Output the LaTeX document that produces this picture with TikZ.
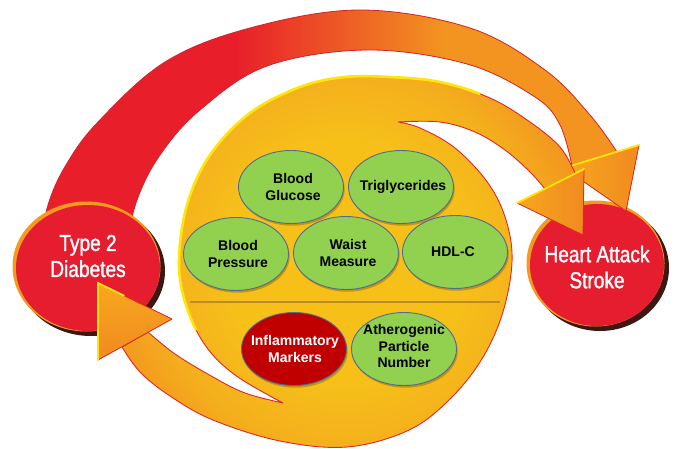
\documentclass[tikz,border=0pt]{standalone}
\usepackage{fontspec}
\setmainfont{Liberation Sans}
\newfontfamily\dinfont[FakeStretch=0.83,FakeBold=1.4]{Liberation Sans}
\usetikzlibrary{shapes.geometric,shadows,calc}

% palette
\definecolor{arcRed}{HTML}{E81F2A}
\definecolor{arcOrange}{HTML}{F39420}
\definecolor{arcEdge}{HTML}{D3222A}
\definecolor{edgeRed}{HTML}{E42629}
\definecolor{hiYellow}{HTML}{FFE60A}
\definecolor{discYellow}{HTML}{F6C019}
\definecolor{discMid}{HTML}{F4AE1D}
\definecolor{bandOrange}{HTML}{F3931F}
\definecolor{arrowLight}{HTML}{F7A81E}
\definecolor{arrowDark}{HTML}{F18A20}
\definecolor{outcomeRed}{HTML}{E61D2E}
\definecolor{rimOrange}{HTML}{F39A1F}
\definecolor{rimDark}{HTML}{3E1712}
\definecolor{factorGreen}{HTML}{92D050}
\definecolor{factorEdge}{HTML}{4F6C95}
\definecolor{markerRed}{HTML}{C00000}
\definecolor{sepGold}{HTML}{B98A2F}

% red-to-orange sweep of the long arc
\pgfdeclarehorizontalshading{arcshade}{100bp}{color(0bp)=(arcRed); color(42bp)=(arcRed); color(60bp)=(arcOrange); color(100bp)=(arcOrange)}
% yellow core of the central disc fading to orange in its arms
\pgfdeclareradialshading{discglow}{\pgfpoint{0bp}{0bp}}{color(0bp)=(discYellow); color(10bp)=(discYellow); color(16bp)=(discMid); color(21bp)=(bandOrange); color(50bp)=(bandOrange)}

% outline of the disc with its two curved arms
\newcommand\discoutline{%
  plot[smooth, tension=0.6] coordinates {(398,122) (440,122) (475,132) (505,150) (530,172) (545,189)}
  -- plot[smooth, tension=0.6] coordinates {(575,173) (560,147) (530,122) (490,98) (440,82) (390,77) (345,77) (300,87) (250,113) (210,155) (187,205) (179,262) (186,305) (205,345) (235,375) (283,403)}
  -- plot[smooth, tension=0.6] coordinates {(283,403) (245,393) (213,377) (175,354) (148,332)}
  -- plot[smooth, tension=0.6] coordinates {(122,347) (140,372) (170,396) (213,420) (280,441) (347,447) (407,431) (447,402) (480,362) (502,315) (512,262) (506,220) (488,183) (455,148) (420,128) (398,122)}
  -- cycle}

\begin{document}
\begin{tikzpicture}[x=1pt, y=-1pt,
  factor/.style={ellipse, draw=factorEdge, line width=0.9pt, fill=factorGreen,
    minimum width=105pt, minimum height=73pt, inner sep=0pt,
    drop shadow={shadow xshift=1.2pt, shadow yshift=-2.2pt, fill=black, opacity=0.22}},
  hotfactor/.style={factor, fill=markerRed},
  factortext/.style={font=\fontsize{14}{16.5}\selectfont\bfseries, align=center, text=black, inner sep=0pt},
  hottext/.style={factortext, text=white},
  outcome/.style={ellipse, fill=outcomeRed, inner sep=0pt},
  outcometext/.style={font=\dinfont\fontsize{23}{26}\selectfont, text=white, align=center, inner sep=0pt},
  tipfill/.style={left color=arrowLight, right color=arrowDark},
  tipedge/.style={edgeRed, line width=0.8pt, line join=round},
  tiplight/.style={hiYellow, line width=1.8pt, line cap=round}]

\fill[white] (0,0) rectangle (679,449);
\useasboundingbox (0,0) rectangle (679,449);

% ---- Heart Attack / Stroke disc
\coordinate (hc) at (597,265);
\fill[rimDark] ([shift={(3,3)}]hc) ellipse [x radius=69, y radius=63];
\fill[rimOrange] ([shift={(-1.5,-1.5)}]hc) ellipse [x radius=69, y radius=63];
\node[outcome, minimum width=134pt, minimum height=122pt] (heart) at (hc) {};

% ---- long arc from diabetes to heart attack
\shadedraw[shading=arcshade, draw=arcEdge, line width=0.8pt, line join=round]
  plot[smooth, tension=0.6] coordinates {(40,250) (48,205) (66,165) (98,122) (165,62) (250,28) (360,10) (470,28) (545,70) (590,115) (617,152)}
  -- plot[smooth, tension=0.6] coordinates {(572,166) (560,125) (535,97) (467,64) (367,50) (267,66) (200,110) (160,155) (137,200) (125,250)}
  -- cycle;
\coordinate (oaL) at (564,168);
\coordinate (oaR) at (639,145);
\coordinate (oaT) at (626,211);
\fill[tipfill] (oaL) -- (oaR) -- (oaT) -- cycle;
\draw[tipedge] (oaR) -- (oaT) -- (oaL);
\draw[tiplight] (oaL) -- (oaR);

% ---- Type 2 Diabetes disc
\coordinate (dc) at (88,268);
\fill[rimDark] ([shift={(3,3)}]dc) ellipse [x radius=74, y radius=65];
\fill[rimOrange] ([shift={(-1.5,-1.5)}]dc) ellipse [x radius=74, y radius=65];
\node[outcome, minimum width=144pt, minimum height=126pt] (diab) at (dc) {};

% ---- central disc with its two arms
\begin{scope}
  \clip \discoutline;
  \shade[shading=discglow] (345,262) ellipse [x radius=300, y radius=300];
\end{scope}
\draw[edgeRed, line width=0.9pt, line join=round] \discoutline;
\begin{scope}
  \clip (0,0) -- (480,0) -- (480,100) -- (395,100) -- (395,330) -- (0,330) -- cycle;
  \draw[hiYellow, line width=2.6pt] \discoutline;
\end{scope}

% arrow tip of the upper arm
\coordinate (iaL) at (517,203);
\coordinate (iaR) at (584,169);
\coordinate (iaT) at (583,235);
\fill[tipfill] (iaL) -- (iaR) -- (iaT) -- cycle;
\draw[tipedge] (iaR) -- (iaT) -- (iaL);
\draw[tiplight] (iaL) -- (iaR);

% arrow tip of the lower arm
\coordinate (laT) at (98,283);
\coordinate (laR) at (172,319);
\coordinate (laB) at (98,360);
\fill[top color=arrowLight, bottom color=arrowDark] (laT) -- (laR) -- (laB) -- cycle;
\draw[tipedge] (laT) -- (laR) -- (laB);
\draw[tiplight] (laB) -- (laT) -- ($(laT)!0.35!(laR)$);

% ---- divider inside the disc
\coordinate (sepL) at (190,302);
\coordinate (sepR) at (500,302);
\draw[sepGold, line width=1.2pt] (sepL) -- (sepR);

% ---- risk factors
\node[factor] (bg) at (291,187) {};
\node[factor] (tg) at (401,187) {};
\node[factor] (bp) at (236,254) {};
\node[factor] (wm) at (346,253) {};
\node[factor] (hdl) at (455,252) {};
\node[hotfactor] (inf) at (294,349) {};
\node[factor] (apn) at (404,349) {};

\node[factortext] (bgT) at ([xshift=2pt]bg.center) {Blood\\Glucose};
\node[factortext] (tgT) at ([xshift=2pt]tg.center) {Triglycerides};
\node[factortext] (bpT) at ([xshift=2pt]bp.center) {Blood\\Pressure};
\node[factortext] (wmT) at ([xshift=2pt]wm.center) {Waist\\Measure};
\node[factortext] (hdlT) at ([xshift=-2pt]hdl.center) {HDL-C};
\node[hottext] (infT) at ([xshift=1pt]inf.center) {Inflammatory\\Markers};
\node[factortext] (apnT) at ([yshift=3pt]apn.center) {Atherogenic\\Particle\\Number};

% ---- outcome labels
\node[outcometext] (diabT) at (88,256) {Type 2\\Diabetes};
\node[outcometext] (heartT) at (597,267) {Heart Attack\\Stroke};
\end{tikzpicture}
\end{document}
